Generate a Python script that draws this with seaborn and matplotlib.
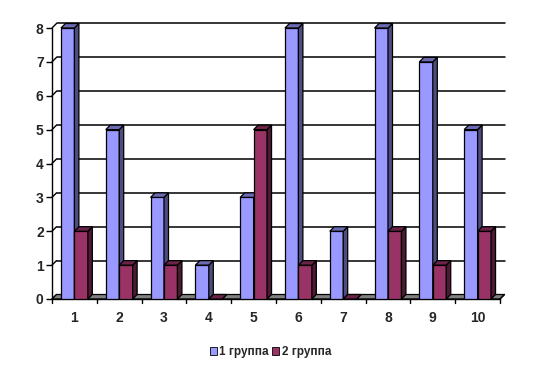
import matplotlib
matplotlib.use("Agg")
import matplotlib.pyplot as plt
import pandas as pd
import seaborn as sns
from matplotlib.patches import Polygon, Patch

categories = ["1", "2", "3", "4", "5", "6", "7", "8", "9", "10"]
group1 = [8, 5, 3, 1, 3, 8, 2, 8, 7, 5]
group2 = [2, 1, 1, 0, 5, 1, 0, 2, 1, 2]
series_names = ["1 группа", "2 группа"]
y_ticks = [0, 1, 2, 3, 4, 5, 6, 7, 8]

front_colors = ["#9999ff", "#993366"]
side_colors = ["#4d4d80", "#4d1a33"]
top_colors = ["#6b6bb3", "#6b2447"]

df = pd.DataFrame({
    "cat": categories * 2,
    "value": group1 + group2,
    "group": [series_names[0]] * len(categories) + [series_names[1]] * len(categories),
})

sns.set_style("white")
plt.rcParams["font.family"] = ["Liberation Sans", "DejaVu Sans"]
plt.rcParams["font.weight"] = "bold"

fig = plt.figure(figsize=(5.41, 3.68), dpi=100)
ax = fig.add_axes([52 / 541, 69 / 368, 448 / 541, 271 / 368])

sns.barplot(data=df, x="cat", y="value", hue="group", order=categories,
            hue_order=series_names, palette=front_colors, width=0.6,
            saturation=1, edgecolor="black", linewidth=0.9, legend=False, ax=ax)

ax.set_xlim(-0.5, len(categories) - 0.5)
ax.set_ylim(0, 8)
ax.set_xlabel("")
ax.set_ylabel("")
for s in ax.spines.values():
    s.set_visible(False)
ax.set_facecolor("none")

# depth offset (pixels -> data units)
fig.canvas.draw()
p0 = ax.transData.transform((0, 0))
p1 = ax.transData.transform((1, 1))
dx = 4.5 / (p1[0] - p0[0])
dy = 4.5 / (p1[1] - p0[1])
x0, x1 = -0.5, len(categories) - 0.5

# floor
ax.add_patch(Polygon([(x0, 0), (x1, 0), (x1 + dx, dy), (x0 + dx, dy)],
                     closed=True, facecolor="#808080", edgecolor="black",
                     linewidth=0.9, zorder=0.5, clip_on=False))

# back gridlines + small diagonals on the left wall
for t in y_ticks[1:]:
    ax.plot([x0 + dx, x1 + dx], [t + dy, t + dy], color="black", lw=1.1,
            zorder=0.4, clip_on=False)
for t in y_ticks:
    ax.plot([x0, x0 + dx], [t, t + dy], color="black", lw=1.0,
            zorder=0.4, clip_on=False)

# front axis lines
ax.plot([x0, x0], [0, 8], color="black", lw=1.0, zorder=0.6, clip_on=False)
ax.plot([x0, x1], [0, 0], color="black", lw=1.0, zorder=0.6, clip_on=False)
ax.plot([x1, x1 + dx], [0, dy], color="black", lw=1.0, zorder=0.6, clip_on=False)

# 3D side and top faces for each bar
z = 1
for i in range(len(categories)):
    for k, cont in enumerate(ax.containers):
        bar = cont.patches[i]
        bx = bar.get_x()
        bw = bar.get_width()
        bh = bar.get_height()
        bar.set_zorder(z)
        side = Polygon([(bx + bw, 0), (bx + bw, bh), (bx + bw + dx, bh + dy),
                        (bx + bw + dx, dy)], closed=True,
                       facecolor=side_colors[k], edgecolor="black",
                       linewidth=0.9, zorder=z + 0.1, clip_on=False)
        top = Polygon([(bx, bh), (bx + bw, bh), (bx + bw + dx, bh + dy),
                       (bx + dx, bh + dy)], closed=True,
                      facecolor=top_colors[k], edgecolor="black",
                      linewidth=0.9, zorder=z + 0.2, clip_on=False)
        ax.add_patch(side)
        ax.add_patch(top)
        z += 1

ax.set_yticks(y_ticks)
ax.set_yticklabels([str(t) for t in y_ticks], fontsize=10, fontweight="bold")
ax.set_xticks(range(len(categories)))
ax.set_xticklabels(categories, fontsize=10, fontweight="bold")
ax.tick_params(axis="y", left=True, length=4, width=1.0, color="black", pad=2)
ax.tick_params(axis="x", bottom=False, pad=5)
# category boundary ticks on the x axis
for b in range(len(categories) + 1):
    ax.plot([b - 0.5, b - 0.5], [0, -0.13], color="black", lw=1.0,
            clip_on=False, zorder=0.6)

handles = [Patch(facecolor=front_colors[k], edgecolor="black", linewidth=0.6)
           for k in range(2)]
fig.legend(handles, series_names, loc="center", bbox_to_anchor=(0.5, 0.043),
           ncol=2, frameon=False, handlelength=0.6, handleheight=0.6,
           handletextpad=0.2, columnspacing=0.3,
           prop={"size": 8.5, "weight": "bold"})

fig.savefig("out.png", dpi=100)
